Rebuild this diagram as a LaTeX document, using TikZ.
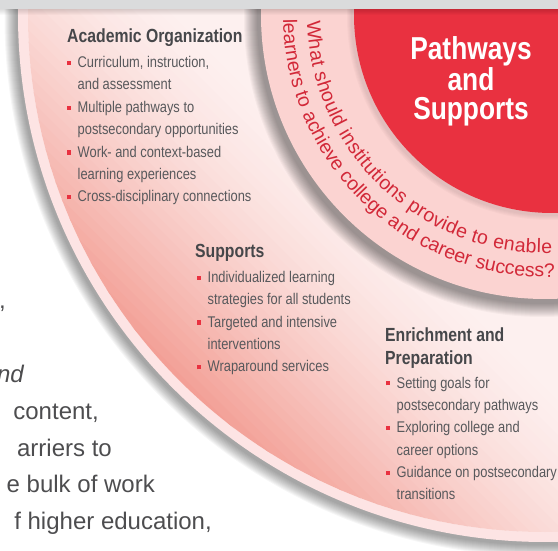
\documentclass[tikz,border=0pt]{standalone}
\usepackage{fontspec}
\setmainfont{Liberation Sans}
\newfontfamily\condfont[FakeStretch=0.83]{Liberation Sans}
\usetikzlibrary{calc,decorations.text}

\definecolor{discred}{RGB}{233,49,64}
\definecolor{ringpink}{RGB}{251,211,209}
\definecolor{rimpink}{RGB}{253,228,228}
\definecolor{palepink}{RGB}{253,240,239}
\definecolor{salmon}{RGB}{241,146,135}
\definecolor{ringred}{RGB}{210,40,56}
\definecolor{headgray}{RGB}{70,71,74}
\definecolor{itemgray}{RGB}{88,89,92}
\definecolor{bodygray}{RGB}{77,77,79}
\definecolor{bandgray}{RGB}{218,219,220}

\newcommand{\bulletmark}{\makebox[10.5pt][l]{\textcolor{discred}{\rule[2.6pt]{4.2pt}{4.2pt}}}}
\newcommand{\hangin}{\hspace*{10.5pt}}

\tikzset{
    heading/.style={anchor=base west, inner sep=0pt, align=left, text=headgray,
                    font=\condfont\bfseries\fontsize{19}{23}\selectfont},
    itemlist/.style={anchor=base west, inner sep=0pt, align=left, text=itemgray,
                     font=\condfont\fontsize{15.5}{22.4}\selectfont},
    bodyline/.style={anchor=base east, inner sep=0pt, text=bodygray,
                     font=\fontsize{24}{24}\selectfont},
    centre/.style={anchor=base, inner sep=0pt, align=center, text=white,
                   font=\condfont\bfseries\fontsize{31.7}{29.5}\selectfont},
    arctext/.style={decorate, decoration={text along path, text align={fit to path},
                    text={|\color{ringred}\fontsize{19.5}{19.5}\selectfont|#1}}},
}

\begin{document}
\begin{tikzpicture}[x=1pt, y=1pt]
    \useasboundingbox (0,0) rectangle (558,550);
    \clip (0,0) rectangle (558,550);
    \coordinate (C) at (545,535);
    \coordinate (R) at (552,535);

    % page text behind the figure
    \node[bodyline] (comma) at (6,241) {,};
    \node[bodyline, font=\itshape\fontsize{24}{24}\selectfont] (nd) at (24,167) {nd};
    \node[bodyline] (content) at (99,130) {content,};
    \node[bodyline] (barriers) at (112,93) {arriers to};
    \node[bodyline] (bulk) at (155,57) {e bulk of work};
    \node[bodyline] (higher) at (212,20) {f higher education,};

    % outer rim with its shadow
    \foreach \k in {1,...,12}
        \fill[black, opacity=0.035] ($(C)+(-1.5,-2.5)$) circle[radius={(527+\k)*1pt}];
    \fill[rimpink] (C) circle[radius=527pt];

    % shaded disc
    \begin{scope}
        \clip (C) circle[radius=517pt];
        \fill[palepink] (C) circle[radius=517pt];
        \begin{scope}[shift={(545,535)}, rotate=45]
            \foreach \s in {200,208,...,560} {
                \pgfmathsetmacro\pct{min(100,100*max(0.001,(\s-250)/290)^1.5)}
                \fill[salmon!\pct!palepink] (-\s-9,-540) rectangle (-\s,540);
            }
        \end{scope}
        \foreach \k in {1,...,14}
            \fill[black, opacity=0.03] ($(C)+(-3,-4)$) circle[radius={(284+\k)*1pt}];
    \end{scope}

    % question ring and centre
    \fill[ringpink] (C) circle[radius=284pt];
    \foreach \k in {1,...,5}
        \fill[black, opacity=0.02] ($(R)+(-2,-2)$) circle[radius={(198+\k)*1pt}];
    \fill[discred] (R) circle[radius=198pt];

    % band at the top
    \foreach \k in {1,...,6}
        \fill[black, opacity=0.025] (0,541-\k) rectangle (558,541);
    \fill[bandgray] (0,541) rectangle (558,550);

    \path[arctext={What should institutions provide to enable}]
        ($(C)+(181.5:238pt)$) arc[start angle=181.5, end angle=271.7, radius=238pt];
    \path[arctext={learners to achieve college and career success?}]
        ($(C)+(180.9:262pt)$) arc[start angle=180.9, end angle=271.7, radius=262pt];

    % multi-line nodes sit on the baseline of their last line
    \node[centre] (pathways) at (471,430) {Pathways\\and\\Supports};

    \node[heading] (acadhead) at (67,507) {Academic Organization};
    \node[itemlist] (acaditems) at (67,348) {\bulletmark Curriculum, instruction,\\
        \hangin and assessment\\
        \bulletmark Multiple pathways to\\
        \hangin postsecondary opportunities\\
        \bulletmark Work- and context-based\\
        \hangin learning experiences\\
        \bulletmark Cross-disciplinary connections};

    \node[heading] (supphead) at (195,292) {Supports};
    \node[itemlist] (suppitems) at (197,178) {\bulletmark Individualized learning\\
        \hangin strategies for all students\\
        \bulletmark Targeted and intensive\\
        \hangin interventions\\
        \bulletmark Wraparound services};

    \node[heading] (enrichhead) at (385,185) {Enrichment and\\Preparation};
    \node[itemlist] (enrichitems) at (386,50) {\bulletmark Setting goals for\\
        \hangin postsecondary pathways\\
        \bulletmark Exploring college and\\
        \hangin career options\\
        \bulletmark Guidance on postsecondary\\
        \hangin transitions};

\end{tikzpicture}
\end{document}
